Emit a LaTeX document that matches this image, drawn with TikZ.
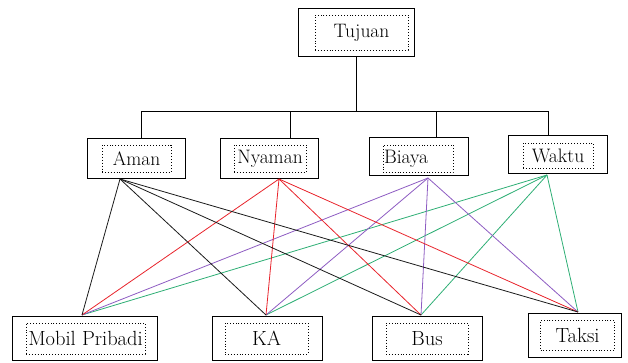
\documentclass[tikz,border=0pt]{standalone}
\usepackage{xcolor}
\usepackage{tikz}
\usetikzlibrary{calc}
\definecolor{amanline}{HTML}{1A1A1A}
\definecolor{nyamanline}{HTML}{E8232B}
\definecolor{biayaline}{HTML}{8D5CC2}
\definecolor{waktuline}{HTML}{2DAE74}

\begin{document}
\begin{tikzpicture}[
    x=1pt, y=-1pt,
    outerbox/.style={rectangle, draw=black, line width=1pt, fill=white, inner sep=0pt},
    innerbox/.style={rectangle, draw=black, dotted, line width=0.9pt, inner sep=0pt, font=\rmfamily\fontsize{19.5}{22}\selectfont},
    altbox/.style={innerbox, font=\rmfamily\fontsize{20.5}{23}\selectfont},
    tree/.style={line width=1pt, color=black},
    link/.style={line width=0.8pt}
]
    \useasboundingbox (0,0) rectangle (628,362);

    % --- GOAL ---
    \node[outerbox, minimum width=116pt, minimum height=48pt] (tujuan) at (356,32) {};
    \node[innerbox, minimum width=93pt, minimum height=35pt] (tujuan-in) at (361.5,32.5) {Tujuan};

    % --- CRITERIA ---
    \node[outerbox, minimum width=98pt, minimum height=40pt] (aman) at (136,158) {};
    \node[innerbox, minimum width=69pt, minimum height=27pt] (aman-in) at (136.5,158.5) {Aman};

    \node[outerbox, minimum width=98pt, minimum height=40pt] (nyaman) at (269,158) {};
    \node[innerbox, minimum width=72pt, minimum height=27pt] (nyaman-in) at (270,158.5) {Nyaman};

    \node[outerbox, minimum width=99pt, minimum height=38pt] (biaya) at (418.5,156) {};
    \node[innerbox, text width=68pt, align=left, minimum height=27pt, inner xsep=1pt] (biaya-in) at (418,158.5) {Biaya};

    \node[outerbox, minimum width=99pt, minimum height=38pt] (waktu) at (557.5,154) {};
    \node[innerbox, minimum width=70pt, minimum height=25pt] (waktu-in) at (558,155.5) {Waktu};

    % --- ALTERNATIVES ---
    \node[outerbox, minimum width=145pt, minimum height=44pt] (mobil) at (84.5,338) {};
    \node[altbox, minimum width=119pt, minimum height=31pt] (mobil-in) at (85.5,338.5) {Mobil Pribadi};

    \node[outerbox, minimum width=110pt, minimum height=44pt] (ka) at (267,338) {};
    \node[altbox, minimum width=83pt, minimum height=31pt] (ka-in) at (266.5,338.5) {KA};

    \node[outerbox, minimum width=110pt, minimum height=44pt] (bus) at (427,338) {};
    \node[altbox, minimum width=82pt, minimum height=31pt] (bus-in) at (427,338.5) {Bus};

    \node[outerbox, minimum width=93pt, minimum height=44pt] (taksi) at (575,335) {};
    \node[altbox, minimum width=74pt, minimum height=30pt] (taksi-in) at (577.5,335) {Taksi};

    % --- TREE FROM GOAL TO CRITERIA ---
    \coordinate (split) at (356,111);
    \coordinate (aman-top) at (141,138);
    \coordinate (nyaman-top) at (290,138);
    \coordinate (biaya-top) at (436,137);
    \coordinate (waktu-top) at (548,135);
    \draw[tree] (tujuan.south) -- (split);
    \draw[tree] (aman-top |- split) -- (waktu-top |- split);
    \foreach \c in {aman,nyaman,biaya,waktu}
        \draw[tree] (\c-top |- split) -- (\c-top);

    % --- LINKS FROM CRITERIA TO ALTERNATIVES ---
    \coordinate (aman-p) at (120,179);
    \coordinate (nyaman-p) at (279,179);
    \coordinate (biaya-p) at (428,178);
    \coordinate (waktu-p) at (547,175);
    \coordinate (mobil-p) at (82,315);
    \coordinate (ka-p) at (266,315);
    \coordinate (bus-p) at (421,315);
    \coordinate (taksi-p) at (578,312);
    \foreach \c/\col in {waktu/waktuline,biaya/biayaline,nyaman/nyamanline,aman/amanline}
        \foreach \a in {mobil,ka,bus,taksi}
            \draw[link, color=\col] (\c-p) -- (\a-p);
\end{tikzpicture}
\end{document}
